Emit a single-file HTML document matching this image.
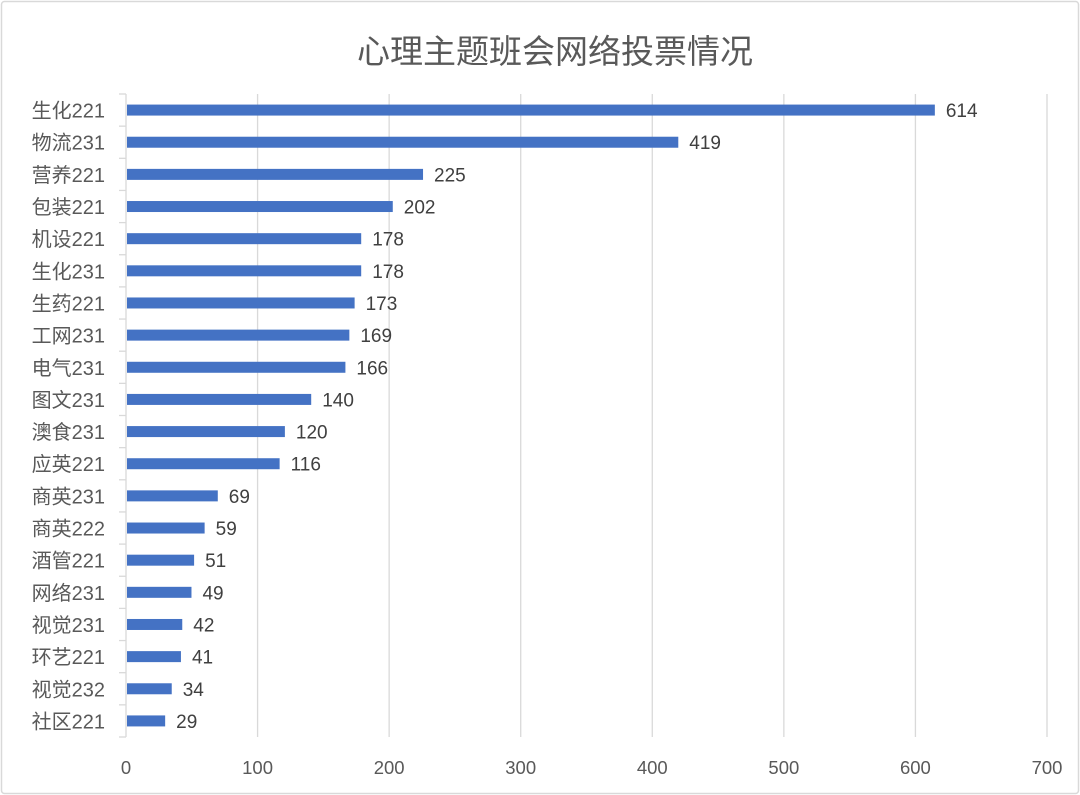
<!DOCTYPE html>
<html><head><meta charset="utf-8"><style>
body{margin:0;background:#fff}
svg{display:block}
text{font-family:"Liberation Sans","Noto Sans CJK SC",sans-serif}
</style></head><body>
<svg width="1080" height="795" viewBox="0 0 1080 795" xmlns="http://www.w3.org/2000/svg">
<rect x="1.5" y="1.5" width="1077" height="792" rx="3" fill="#fff" stroke="#d9d9d9" stroke-width="1.5"/>
<text x="555" y="63" font-size="33" fill="#595959" text-anchor="middle">心理主题班会网络投票情况</text>
<g id="g"></g>
</svg>
<script>
(function(){
var data=[["生化221",614],["物流231",419],["营养221",225],["包装221",202],["机设221",178],["生化231",178],["生药221",173],["工网231",169],["电气231",166],["图文231",140],["澳食231",120],["应英221",116],["商英231",69],["商英222",59],["酒管221",51],["网络231",49],["视觉231",42],["环艺221",41],["视觉232",34],["社区221",29]];
var x0=126,sc=921/700,ptop=94,pbot=737,rh=(pbot-ptop)/20,s='';
for(var k=1;k<=7;k++){var gx=x0+k*100*sc;s+='<line x1="'+gx+'" y1="'+ptop+'" x2="'+gx+'" y2="'+pbot+'" stroke="#d9d9d9" stroke-width="1.3"/>';}
for(var k=0;k<=7;k++){var gx=x0+k*100*sc;s+='<text x="'+gx+'" y="774" font-size="18.5" fill="#595959" text-anchor="middle">'+(k*100)+'</text>';}
s+='<line x1="'+x0+'" y1="'+ptop+'" x2="'+x0+'" y2="'+pbot+'" stroke="#d9d9d9" stroke-width="1.3"/>';
for(var i=0;i<=20;i++){var ty=ptop+i*rh;s+='<line x1="119" y1="'+ty+'" x2="'+x0+'" y2="'+ty+'" stroke="#d9d9d9" stroke-width="1.3"/>';}
data.forEach(function(d,i){var cy=ptop+(i+0.5)*rh;var w=d[1]*sc;
s+='<rect x="'+(x0+1)+'" y="'+(cy-5.5)+'" width="'+w+'" height="11" fill="#4472c4"/>';
s+='<text x="'+(x0+w+12)+'" y="'+(cy+7)+'" font-size="19" fill="#404040">'+d[1]+'</text>';
s+='<text x="105" y="'+(cy+7.5)+'" font-size="20" fill="#595959" text-anchor="end">'+d[0]+'</text>';});
document.getElementById('g').innerHTML=s;
})();
</script>
</body></html>
